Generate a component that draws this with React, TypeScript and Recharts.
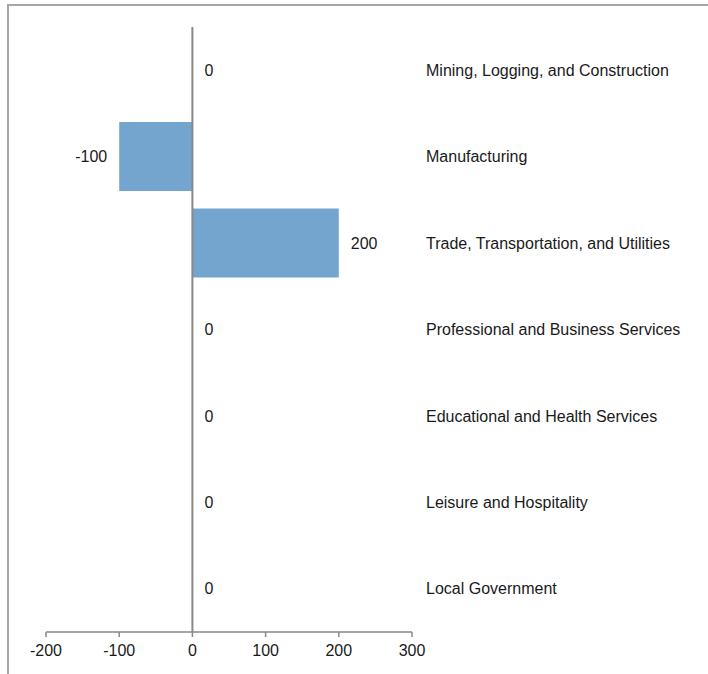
import {
  ComposedChart,
  Bar,
  Line,
  XAxis,
  YAxis,
  ReferenceLine,
} from "recharts";

// Chart data
const industries = [
  "Mining, Logging, and Construction",
  "Manufacturing",
  "Trade, Transportation, and Utilities",
  "Professional and Business Services",
  "Educational and Health Services",
  "Leisure and Hospitality",
  "Local Government",
];
const changes = [0, -100, 200, 0, 0, 0, 0];
const xTicks = [-200, -100, 0, 100, 200, 300];

const data = industries.map((name, i) => ({ name, value: changes[i] }));

const FONT = "'Liberation Sans', Arial, sans-serif";
const AXIS = "#898989";
const TEXT = "#1a1a1a";

// value label sits just past the bar end (point of the hidden line)
const ValueLabel = (props: any) => {
  const { x, y, value } = props;
  const neg = value < 0;
  return (
    <text
      x={neg ? x - 12 : x + 12}
      y={y}
      dy="0.35em"
      textAnchor={neg ? "end" : "start"}
      fontSize={16}
      fontFamily={FONT}
      fill={TEXT}
    >
      {value}
    </text>
  );
};

export default function App() {
  return (
    <div
      style={{
        position: "absolute",
        left: 0,
        top: 0,
        width: 708,
        height: 674,
        overflow: "hidden",
        background: "#fff",
      }}
    >
      {/* Frame */}
      <div
        style={{
          position: "absolute",
          left: 7,
          top: 4,
          width: 760,
          height: 760,
          border: "2px solid #a6a6a6",
        }}
      />
      <div style={{ position: "absolute", left: 0, top: 0 }}>
        <ComposedChart
          width={708}
          height={674}
          data={data}
          layout="vertical"
          margin={{ top: 27, right: 16, bottom: 12, left: 46 }}
          barCategoryGap="10%"
          style={{ fontFamily: FONT }}
        >
          <XAxis
            type="number"
            domain={[-200, 300]}
            ticks={xTicks}
            allowDataOverflow
            height={30}
            stroke={AXIS}
            strokeWidth={1.5}
            tickSize={5}
            tickMargin={8}
            tick={{ fontSize: 16, fill: TEXT, fontFamily: FONT }}
          />
          <YAxis
            type="category"
            dataKey="name"
            orientation="right"
            width={280}
            axisLine={false}
            tickLine={false}
            tickSize={0}
            tickMargin={14}
            interval={0}
            tick={{ fontSize: 16, fill: TEXT, fontFamily: FONT }}
          />
          <Bar dataKey="value" fill="#74A5CE" isAnimationActive={false} />
          <ReferenceLine x={0} stroke={AXIS} strokeWidth={2} />
          <Line
            dataKey="value"
            stroke="none"
            dot={false}
            activeDot={false}
            isAnimationActive={false}
            label={ValueLabel}
          />
        </ComposedChart>
      </div>
    </div>
  );
}
